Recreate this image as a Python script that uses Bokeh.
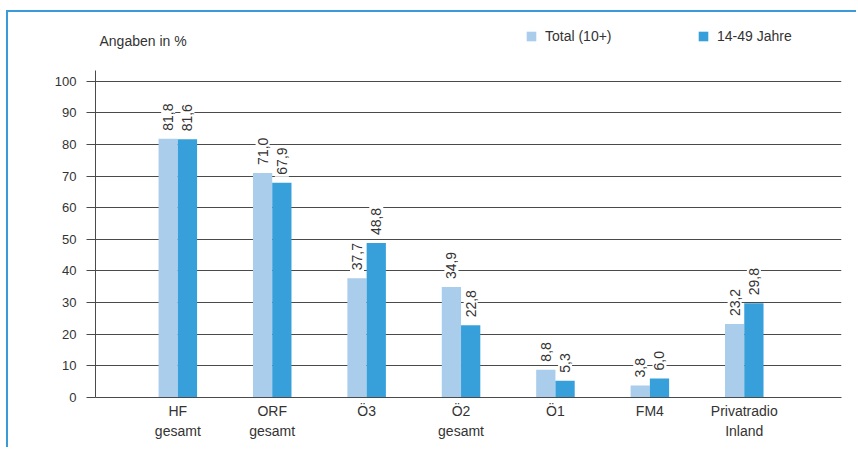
from bokeh.plotting import figure
from bokeh.models import (ColumnDataSource, Legend, LegendItem, FixedTicker, Label, Range1d)
from bokeh.core.properties import value
from bokeh.embed import file_html
from bokeh.resources import INLINE

# ---- data ----
categories = ["HF\ngesamt", "ORF\ngesamt", "Ö3", "Ö2\ngesamt", "Ö1", "FM4", "Privatradio\nInland"]
total_10 = [81.8, 71.0, 37.7, 34.9, 8.8, 3.8, 23.2]
age_14_49 = [81.6, 67.9, 48.8, 22.8, 5.3, 6.0, 29.8]
series_names = ["Total (10+)", "14-49 Jahre"]
y_ticks = [0, 10, 20, 30, 40, 50, 60, 70, 80, 90, 100]
unit_label = "Angaben in %"

# ---- style ----
LIGHT = "#aacdec"
DARK = "#37a0da"
GRID = "#4a4a4a"
TEXT = "#333333"
FRAME_BLUE = "#3b9ad8"
FONT = "Liberation Sans"
BAR_W = 0.204

idx = list(range(len(categories)))
fmt = lambda v: f"{v:.1f}".replace(".", ",")
src = ColumnDataSource(dict(
    x_total=[i - BAR_W / 2 for i in idx],
    x_young=[i + BAR_W / 2 for i in idx],
    total=total_10,
    young=age_14_49,
    total_lbl=[fmt(v) for v in total_10],
    young_lbl=[fmt(v) for v in age_14_49],
))

p = figure(width=850, height=437, output_backend="svg", toolbar_location=None,
           x_range=Range1d(-0.872, 7.03), y_range=Range1d(0, 121.7),
           min_border_left=87, min_border_right=17, min_border_top=0, min_border_bottom=52)
p.styles = {"margin-left": "6px", "margin-top": "10px",
            "border-left": f"2px solid {FRAME_BLUE}", "border-top": f"2px solid {FRAME_BLUE}"}
p.outline_line_color = None
p.background_fill_color = "white"
p.border_fill_color = "white"

r1 = p.vbar(x="x_total", top="total", width=BAR_W, source=src, fill_color=LIGHT, line_color=None)
r2 = p.vbar(x="x_young", top="young", width=BAR_W, source=src, fill_color=DARK, line_color=None)

for xcol, tcol, lcol in [("x_total", "total", "total_lbl"), ("x_young", "young", "young_lbl")]:
    p.text(x=xcol, y=tcol, text=lcol, source=src, angle=90, angle_units="deg",
           text_align="left", text_baseline="middle", y_offset=-6,
           text_font=value(FONT), text_font_size="14px", text_color=TEXT,
           background_fill_color="white", padding=2)

# axes
p.xaxis.ticker = FixedTicker(ticks=idx)
p.xaxis.major_label_overrides = {i: c for i, c in zip(idx, categories)}
p.xaxis.major_tick_out = 0
p.xaxis.major_tick_in = 0
p.xaxis.minor_tick_line_color = None
p.xaxis.axis_line_color = GRID
p.xaxis.major_label_text_font = FONT
p.xaxis.major_label_text_font_size = "14px"
p.xaxis.major_label_text_color = TEXT
p.xaxis.major_label_text_line_height = 1.25
p.xaxis.major_label_standoff = 5

p.yaxis.ticker = FixedTicker(ticks=y_ticks)
p.yaxis.bounds = (0, 103.5)
p.yaxis.major_tick_out = 9
p.yaxis.major_tick_in = 0
p.yaxis.major_tick_line_color = GRID
p.yaxis.minor_tick_line_color = None
p.yaxis.axis_line_color = GRID
p.yaxis.major_label_text_font = FONT
p.yaxis.major_label_text_font_size = "13px"
p.yaxis.major_label_text_color = TEXT
p.yaxis.major_label_standoff = 10

p.xgrid.visible = False
p.ygrid.ticker = FixedTicker(ticks=y_ticks[1:])
p.ygrid.grid_line_color = GRID
p.ygrid.grid_line_width = 1

legend = Legend(items=[LegendItem(label=series_names[0], renderers=[r1]),
                       LegendItem(label=series_names[1], renderers=[r2])],
                orientation="horizontal", location=(430, 353),
                glyph_width=12, glyph_height=12, label_height=12, label_standoff=8,
                label_width=152, spacing=0, padding=0, margin=0,
                border_line_color=None, background_fill_alpha=0,
                label_text_font=FONT, label_text_font_size="14px", label_text_color=TEXT)
p.add_layout(legend, "center")

p.add_layout(Label(x=4, y=357, x_units="screen", y_units="screen", text=unit_label,
                   text_baseline="middle", text_font=FONT, text_font_size="14px",
                   text_color=TEXT))

open("out.html", "w").write(file_html(p, INLINE))
